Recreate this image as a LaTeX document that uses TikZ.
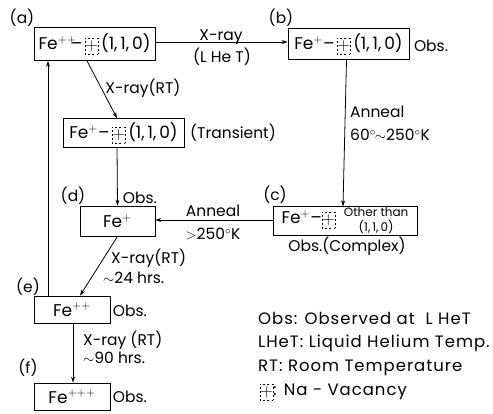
\documentclass[tikz,border=0pt]{standalone}
\usepackage{fontspec}
\setmainfont{Poppins}
\usetikzlibrary{arrows.meta}
\setlength{\unitlength}{1pt}
\newcommand{\vac}{\raisebox{-4pt}{\begin{picture}(13,16)\linethickness{0.6pt}\put(0,0){\dashbox{2}(13,16){$+$}}\end{picture}}}
\newcommand{\FeA}{Fe$^{++}$\kern-5.5pt\raisebox{0.5pt}{–}}
\newcommand{\ooo}{(1,\,1,\,0)}
\begin{document}
\begin{tikzpicture}[x=1pt,y=-1pt,
  txt/.style={font=\fontsize{15.5}{17}\selectfont, inner sep=0pt},
  leg/.style={font=\fontsize{16.5}{18}\selectfont\addfontfeature{LetterSpace=6}, inner sep=0pt},
  box/.style={draw, line width=0.8pt, inner sep=1pt, font=\fontsize{17}{19}\selectfont},
  conn/.style={line width=0.8pt, -{Stealth[length=6pt,width=4pt]}}]
\useasboundingbox (0,0) rectangle (493,414);
% boxes
\node[box,minimum width=121pt,minimum height=33pt] (a) at (94.5,44) {\FeA\,\vac\,\ooo};
\node[box,minimum width=121pt,minimum height=31pt] (b) at (348.5,44) {Fe$^{+}$–\,\vac\,\ooo};
\node[box,minimum width=121pt,minimum height=29pt] (t) at (123.5,133) {Fe$^{+}$–\,\vac\,\ooo};
\node[box,minimum width=75pt,minimum height=30pt] (d) at (117.5,221) {Fe$^{+}$};
\node[box,minimum width=144pt,minimum height=28pt] (c) at (345,221) {Fe$^{+}$–\vac\ \ {\fontsize{12}{10.5}\selectfont\begin{tabular}{@{}c@{}}Other than\\\ooo\end{tabular}}};
\node[box,minimum width=76pt,minimum height=27pt] (e) at (72,309.5) {Fe$^{++}$};
\node[box,minimum width=76pt,minimum height=27pt] (f) at (72,396.5) {Fe$^{+++}$};
% connectors
\draw[conn] ([yshift=2pt]a.east) -- ([yshift=2pt]b.west);
\draw[conn] ([xshift=-7.5pt]a.south) -- ([xshift=-6.5pt]t.north);
\draw[conn] ([xshift=-6.5pt]t.south) -- (d.north);
\draw[conn] ([xshift=-2pt]b.south) -- ([xshift=-2pt]c.north);
\draw[conn] ([yshift=1pt]c.west) -- ([yshift=1pt]d.east);
\draw[conn] (d.south) -- ([xshift=8pt]e.north);
\draw[conn] ([xshift=-24pt]e.north) -- ([xshift=-46.5pt]a.south);
\draw[conn] ([xshift=1pt]e.south) -- ([xshift=1pt]f.north);
% labels
\node[txt] (la) at (22,18) {(a)};
\node[txt] (lb) at (281,18) {(b)};
\node[txt] (lc) at (275,195) {(c)};
\node[txt] (ld) at (73,196) {(d)};
\node[txt] (le) at (28,287) {(e)};
\node[txt] (lf) at (28,368) {(f)};
\node[txt] (xab1) at (221,37) {X-ray};
\node[txt] (xab2) at (222,57) {(L He T)};
\node[txt] (obsb) at (431,46) {Obs.};
\node[txt] (xat) at (143,88) {X-ray(RT)};
\node[txt,anchor=west] (trans) at (190,133) {(Transient)};
\node[txt] (obsd) at (140,198) {Obs.};
\node[txt,anchor=west] (anb1) at (350,112) {Anneal};
\node[txt,anchor=west] (anb2) at (350,135) {60$^\circ\!\!\sim$250$^\circ$K};
\node[txt] (anc1) at (213,211) {Anneal};
\node[txt] (anc2) at (213,234) {$>$250$^\circ$K};
\node[txt] (obsc) at (347,246) {Obs.(Complex)};
\node[txt,anchor=west] (xde1) at (111,258) {X-ray(RT)};
\node[txt,anchor=west] (xde2) at (103,278) {$\sim$24 hrs.};
\node[txt] (obse) at (130,311) {Obs.};
\node[txt,anchor=west] (xef1) at (83,340) {X-ray (RT)};
\node[txt,anchor=west] (xef2) at (83,358) {$\sim$90 hrs.};
\node[txt] (obsf) at (130,397) {Obs.};
% legend
\node[leg,anchor=west] (lg1) at (258,318) {Obs: Observed at \ L HeT};
\node[leg,anchor=west] (lg2) at (258,343) {LHeT: Liquid Helium Temp.};
\node[leg,anchor=west] (lg3) at (258,368) {RT: Room Temperature};
\node[leg,anchor=west] (lg4) at (260,392) {\vac: Na - Vacancy};
\end{tikzpicture}
\end{document}
